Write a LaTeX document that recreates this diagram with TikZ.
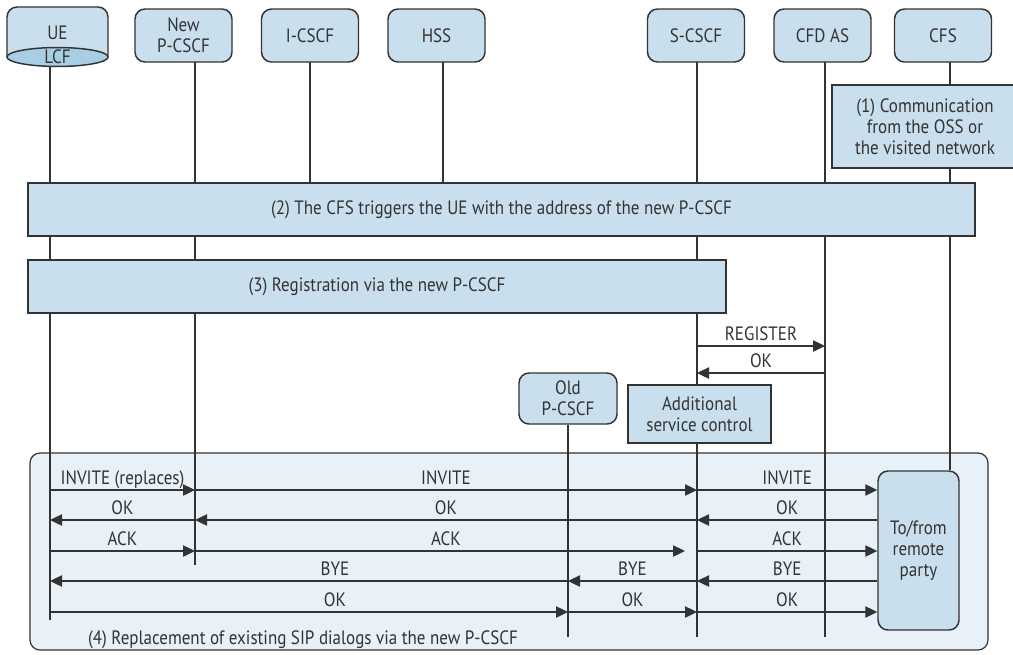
\documentclass[tikz,border=0pt]{standalone}
\usepackage{fontspec}
\setmainfont{PT Sans}[FakeStretch=0.88]
\usetikzlibrary{arrows.meta}
\definecolor{boxblue}{HTML}{C9DFED}
\definecolor{frameblue}{HTML}{E8F0F8}
\definecolor{ellblue}{HTML}{A8CEE3}
\definecolor{ink}{HTML}{333333}
\pgfdeclarelayer{bg}
\pgfsetlayers{bg,main}
\begin{document}
\begin{tikzpicture}[x=0.75pt,y=-0.75pt,
  every node/.style={font=\fontsize{14.5}{15.8}\selectfont, text=ink},
  hdr/.style={draw=ink, fill=boxblue, line width=1.1pt, rounded corners=7.5pt, minimum width=72.75pt, minimum height=39.75pt, align=center, inner sep=1pt},
  note/.style={draw=ink, fill=boxblue, line width=1.1pt, align=center, inner sep=1pt},
  life/.style={draw=ink, line width=0.9pt},
  msg/.style={draw=ink, line width=0.9pt, -{Triangle[length=9pt,width=8.5pt]}},
  lbl/.style={anchor=base, yshift=4.5pt, inner sep=0pt},
]
\useasboundingbox (0,0) rectangle (1013,654);

% UE / LCF header
\draw[draw=ink, fill=boxblue, line width=1.1pt, rounded corners=7.5pt] (7,57) -- (7,7) -- (108,7) -- (108,57);
\draw[draw=ink, fill=ellblue, line width=1.1pt] (57.5,57) ellipse [x radius=37.9pt, y radius=7.1pt];
\node (ue) at (57.5,33) {UE};
\node (lcf) at (57.5,57) {LCF};

% other headers
\node[hdr] (np) at (183.5,35.5) {New\\P-CSCF};
\node[hdr] (ic) at (310,35.5) {I-CSCF};
\node[hdr] (hss) at (436.5,35.5) {HSS};
\node[hdr] (sc) at (696,35.5) {S-CSCF};
\node[hdr] (cfd) at (822.5,35.5) {CFD AS};
\node[hdr] (cfs) at (943,35.5) {CFS};

% lifeline coordinates
\coordinate (ueT) at (50,66.5);  \coordinate (ueB) at (50,620);
\coordinate (npT) at (195,62);   \coordinate (npB) at (195,565);
\coordinate (icT) at (310,62);
\coordinate (hsT) at (443,62);
\coordinate (scT) at (697,62);   \coordinate (scB) at (697,637);
\coordinate (cfdT) at (825,62);  \coordinate (cfdB) at (825,637);
\coordinate (cfsT) at (950,62);
\coordinate (opB) at (568,637);

% step boxes
\node[note, minimum width=139.5pt, minimum height=62.25pt] (n1) at (925,126.5) {(1) Communication\\from the OSS or\\the visited network};
\node[note, minimum width=710.25pt, minimum height=39.75pt] (n2) at (501.5,209.5) {(2) The CFS triggers the UE with the address of the new P-CSCF};
\node[note, minimum width=523.5pt, minimum height=39.75pt] (n3) at (377,286.5) {(3) Registration via the new P-CSCF};
\node[hdr, minimum width=73.5pt, minimum height=38.25pt] (op) at (568,398.5) {Old\\P-CSCF};
\node[note, minimum width=107.25pt, minimum height=43.5pt] (asc) at (699.5,414) {Additional\\service control};
\node[hdr, minimum width=60.75pt, minimum height=119.25pt] (rp) at (918.5,550.5) {To/from\\remote\\party};

\begin{pgfonlayer}{bg}
\node[draw=ink, fill=frameblue, line width=0.9pt, rounded corners=7.5pt, minimum width=718.5pt, minimum height=147.75pt, inner sep=0pt] (frame) at (509,551.5) {};
\draw[life] (ueT) -- (ueB);
\draw[life] (npT) -- (npB);
\draw[life] (icT) -- (icT |- n2.north);
\draw[life] (hsT) -- (hsT |- n2.north);
\draw[life] (scT) -- (scB);
\draw[life] (cfdT) -- (cfdB);
\draw[life] (cfsT) -- (cfsT |- rp.north);
\draw[life] (op.south) -- (opB);
\end{pgfonlayer}

\node[anchor=base] (cap4) at (303,644) {(4) Replacement of existing SIP dialogs via the new P-CSCF};

% registration
\coordinate (rg) at (0,346);
\coordinate (rk) at (0,373);
\draw[msg] (scT |- rg) -- node[lbl]{REGISTER} (cfdT |- rg);
\draw[msg] (cfdT |- rk) -- node[lbl]{OK} (scT |- rk);

% message rows
\coordinate (r1) at (0,490);
\coordinate (r2) at (0,520);
\coordinate (r3) at (0,551);
\coordinate (r4) at (0,581);
\coordinate (r5) at (0,612);

\draw[msg] (ueT |- r1) -- node[lbl]{INVITE (replaces)} (npT |- r1);
\draw[msg] (npT |- r1) -- node[lbl]{INVITE} (scT |- r1);
\draw[msg] (scT |- r1) -- node[lbl]{INVITE} (rp.west |- r1);

\draw[msg] (rp.west |- r2) -- node[lbl]{OK} (scT |- r2);
\draw[msg] (scT |- r2) -- node[lbl]{OK} (npT |- r2);
\draw[msg] (npT |- r2) -- node[lbl]{OK} (ueT |- r2);

\draw[msg] (ueT |- r3) -- node[lbl]{ACK} (npT |- r3);
\draw[msg, shorten >=9pt] (npT |- r3) -- node[lbl]{ACK} (scT |- r3);
\draw[msg] (scT |- r3) -- node[lbl]{ACK} (rp.west |- r3);

\draw[msg] (rp.west |- r4) -- node[lbl]{BYE} (scT |- r4);
\draw[msg] (scT |- r4) -- node[lbl]{BYE} (op |- r4);
\draw[msg] (op |- r4) -- node[lbl, pos=0.45]{BYE} (ueT |- r4);

\draw[msg] (ueT |- r5) -- node[lbl, pos=0.55]{OK} (op |- r5);
\draw[msg] (op |- r5) -- node[lbl]{OK} (scT |- r5);
\draw[msg] (scT |- r5) -- node[lbl]{OK} (rp.west |- r5);
\end{tikzpicture}
\end{document}
